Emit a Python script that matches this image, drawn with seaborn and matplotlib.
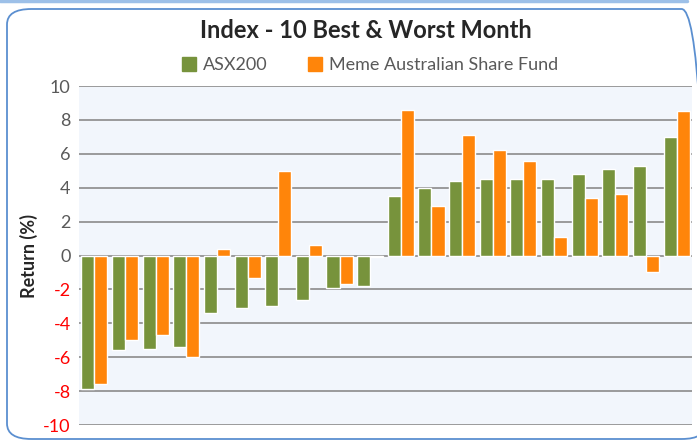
import pandas as pd
import numpy as np
import matplotlib.pyplot as plt
import matplotlib as mpl
from matplotlib.patches import FancyBboxPatch, Patch
import seaborn as sns

sns.set_style('white')
mpl.rcParams['font.family'] = ['Lato', 'DejaVu Sans']

# 数据
months = ['M%d' % i for i in range(1, 21)]
asx200 = [-7.9, -5.6, -5.5, -5.4, -3.4, -3.1, -3.0, -2.6, -1.9, -1.8,
          3.5, 4.0, 4.4, 4.5, 4.5, 4.5, 4.8, 5.1, 5.3, 7.0]
meme = [-7.6, -5.0, -4.7, -6.0, 0.4, -1.3, 5.0, 0.6, -1.7, -0.1,
        8.6, 2.9, 7.1, 6.2, 5.6, 1.1, 3.4, 3.6, -1.0, 8.5]
series = ['ASX200', 'Meme Australian Share Fund']
colors = ['#77933C', '#FF850A']
yticks = [-10, -8, -6, -4, -2, 0, 2, 4, 6, 8, 10]

df = pd.DataFrame({
    'month': months * 2,
    'ret': asx200 + meme,
    'series': [series[0]] * 20 + [series[1]] * 20,
})

fig = plt.figure(figsize=(6.97, 4.41), dpi=100)

# 外框（右边被截掉）
fig.patches.append(FancyBboxPatch((7 / 697, 2 / 441), 699 / 697, 430 / 441,
                                  boxstyle='round,pad=0,rounding_size=0.035',
                                  transform=fig.transFigure, fill=False,
                                  edgecolor='#5B8FD0', lw=1.3, zorder=0))
fig.lines.append(plt.Line2D([0, 0.985], [1 - 1 / 441, 1 - 1 / 441], transform=fig.transFigure,
                            color='#9DC0E8', lw=2.5))

ax = fig.add_axes([79 / 697, 1 - 425 / 441, 613 / 697, 339 / 441])
ax.set_facecolor('#F2F6FC')

sns.barplot(data=df, x='month', y='ret', hue='series', hue_order=series,
            palette=colors, width=0.85, ax=ax, legend=False, saturation=1)

ax.set_ylim(-10, 10)
ax.set_yticks(yticks)
ax.set_yticklabels([str(t) for t in yticks], fontsize=13)
for lab, t in zip(ax.get_yticklabels(), yticks):
    lab.set_color('red' if t < 0 else '#595959')
ax.tick_params(axis='y', length=0, pad=6)
ax.set_xticks([])
ax.set_xlabel('')
ax.set_ylabel('Return (%)', fontsize=13, fontweight='bold', labelpad=4)
ax.yaxis.grid(True, color='#939393', lw=1.3)
ax.set_axisbelow(True)
for s in ax.spines.values():
    s.set_visible(False)

fig.text(366 / 697, 1 - 30 / 441, 'Index - 10 Best & Worst Month',
         ha='center', va='center', fontsize=17, fontweight='bold')

handles = [Patch(color=c, label=s) for c, s in zip(colors, series)]
fig.legend(handles=handles, loc='center', bbox_to_anchor=(370 / 697, 1 - 65 / 441),
           ncol=2, frameon=False, fontsize=13, handlelength=0.8, handleheight=0.8,
           handletextpad=0.4, columnspacing=2.2, labelcolor='#595959')

fig.savefig('out.png', dpi=100)
